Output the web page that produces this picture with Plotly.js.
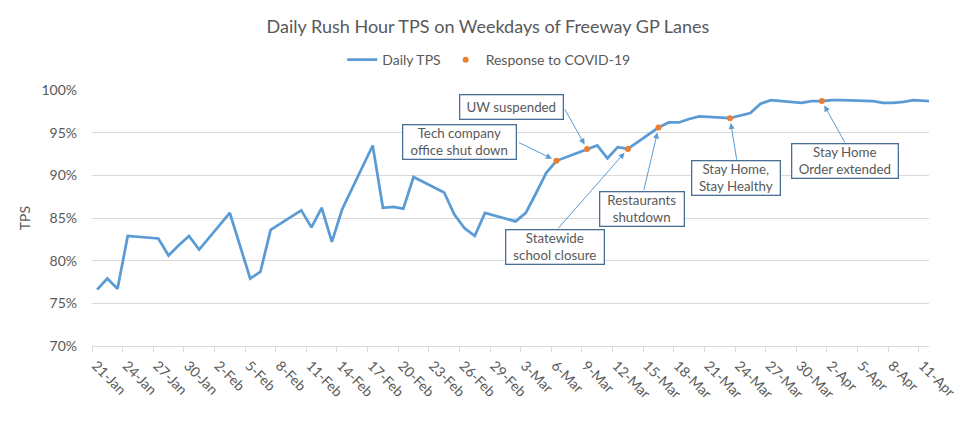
<!DOCTYPE html>
<html>
<head>
<meta charset="utf-8">
<script src="https://cdn.plot.ly/plotly-3.0.1.min.js"></script>
<style>html,body{margin:0;padding:0;background:#fff;}#chart{width:975px;height:423px;}</style>
</head>
<body>
<div id="chart"></div>
<script>
// Weekday dates (2020) and Daily TPS (%)
const dates = [
  '2020-01-21','2020-01-22','2020-01-23','2020-01-24','2020-01-27','2020-01-28','2020-01-29','2020-01-30','2020-01-31',
  '2020-02-03','2020-02-05','2020-02-06','2020-02-07','2020-02-10','2020-02-11','2020-02-12','2020-02-13','2020-02-14',
  '2020-02-17','2020-02-18','2020-02-19','2020-02-20','2020-02-21','2020-02-24','2020-02-25','2020-02-26','2020-02-27','2020-02-28',
  '2020-03-02','2020-03-03','2020-03-04','2020-03-05','2020-03-06','2020-03-09','2020-03-10','2020-03-11','2020-03-12','2020-03-13',
  '2020-03-16','2020-03-17','2020-03-18','2020-03-19','2020-03-20','2020-03-23','2020-03-24','2020-03-25','2020-03-26','2020-03-27',
  '2020-03-30','2020-03-31','2020-04-01','2020-04-02','2020-04-03','2020-04-06','2020-04-07','2020-04-08','2020-04-09','2020-04-10','2020-04-13'
];
const tps = [
  76.6,77.9,76.7,82.9,82.6,80.6,81.8,82.9,81.3,
  85.6,77.9,78.7,83.6,85.9,83.9,86.2,82.2,86.0,
  93.5,86.2,86.3,86.1,89.8,88.0,85.4,83.8,82.9,85.6,
  84.6,85.6,87.9,90.3,91.7,93.1,93.5,92.0,93.3,93.1,
  95.6,96.2,96.2,96.6,96.9,96.7,97.0,97.3,98.4,98.8,
  98.5,98.7,98.7,98.8,98.8,98.7,98.5,98.5,98.6,98.8,98.6
];
// COVID-19 response events
const eventDates = ['2020-03-06','2020-03-09','2020-03-13','2020-03-16','2020-03-23','2020-04-01'];
const eventTps   = [91.7, 93.1, 93.1, 95.6, 96.7, 98.7];
const eventLabels = ['Tech company<br>office shut down','UW suspended','Statewide<br>school closure','Restaurants<br>shutdown','Stay Home,<br>Stay Healthy','Stay Home<br>Order extended'];
// x tick labels
const tickDates = ['2020-01-21','2020-01-24','2020-01-27','2020-01-30','2020-02-02','2020-02-05','2020-02-08','2020-02-11','2020-02-14','2020-02-17',
  '2020-02-20','2020-02-23','2020-02-26','2020-02-29','2020-03-03','2020-03-06','2020-03-09','2020-03-12','2020-03-15','2020-03-18',
  '2020-03-21','2020-03-24','2020-03-27','2020-03-30','2020-04-02','2020-04-05','2020-04-08','2020-04-11'];
const tickLabels = ['21-Jan','24-Jan','27-Jan','30-Jan','2-Feb','5-Feb','8-Feb','11-Feb','14-Feb','17-Feb',
  '20-Feb','23-Feb','26-Feb','29-Feb','3-Mar','6-Mar','9-Mar','12-Mar','15-Mar','18-Mar',
  '21-Mar','24-Mar','27-Mar','30-Mar','2-Apr','5-Apr','8-Apr','11-Apr'];
const yTicks = [70,75,80,85,90,95,100];

const noon = d => d + ' 12:00';
const FONT = 'Lato, Carlito, Calibri, "Liberation Sans", sans-serif';
const GREY = '#595959';

const traces = [
  {x: dates.map(noon), y: tps, type: 'scatter', mode: 'lines', name: 'Daily TPS',
   line: {color: '#5B9BD5', width: 2.75}},
  {x: eventDates.map(noon), y: eventTps, type: 'scatter', mode: 'markers', name: 'Response to COVID-19',
   marker: {color: '#ED7D31', size: 6}}
];

// box positions (paper) and arrow tails (pixel offsets from event point)
const boxPos = [[0.4393,0.7988,110,31],[0.5006,0.9355,100,21],[0.5535,0.386,95,31],[0.6569,0.5352,81,31],[0.7694,0.6555,85,31],[0.9002,0.7227,103,31]];
const arrowTail = [[-39,-19],[-23,-41],[-71,81],[-15,64],[7,43],[24,43]];

const annotations = [];
eventLabels.forEach((t,i) => {
  annotations.push({xref:'paper', yref:'paper', x: boxPos[i][0], y: boxPos[i][1], xanchor:'center', yanchor:'middle',
    text: t, showarrow:false, font:{family:FONT, size:13.3, color:GREY}, bgcolor:'#ffffff',
    bordercolor:'#4A6F96', borderwidth:1.3, borderpad:1, width: boxPos[i][2], height: boxPos[i][3], align:'center'});
  annotations.push({x: noon(eventDates[i]), y: eventTps[i], xref:'x', yref:'y', text:'', showarrow:true,
    ax: arrowTail[i][0], ay: arrowTail[i][1], axref:'pixel', ayref:'pixel',
    arrowhead:2, arrowsize:1.2, arrowwidth:1, arrowcolor:'#5B9BD5', standoff:5});
});

const layout = {
  width: 975, height: 423,
  margin: {l: 92, r: 46, t: 90, b: 77},
  paper_bgcolor: '#ffffff', plot_bgcolor: '#ffffff',
  font: {family: FONT, color: GREY, size: 14},
  title: {text: 'Daily Rush Hour TPS on Weekdays of Freeway GP Lanes', x: 0.5005, xanchor: 'center',
          y: 0.936, yanchor: 'middle', font: {family: FONT, size: 18, color: GREY}},
  showlegend: true,
  legend: {orientation: 'h', x: 0.474, xanchor: 'center', y: 1.117, yanchor: 'middle',
           font: {family: FONT, size: 14, color: GREY}, itemwidth: 30, bgcolor: 'rgba(0,0,0,0)'},
  xaxis: {type: 'date', range: ['2020-01-21', '2020-04-12'], tickmode: 'array',
          tickvals: tickDates, ticktext: tickLabels, tickangle: 45, ticklabelshift: 4,
          ticks: 'outside', ticklen: 5, tickcolor: '#D9D9D9', tickwidth: 1,
          showgrid: false, showline: true, linecolor: '#D9D9D9', linewidth: 1,
          tickfont: {family: FONT, size: 14, color: GREY}, zeroline: false, fixedrange: true},
  yaxis: {range: [70, 100], tickmode: 'array', tickvals: yTicks, ticktext: yTicks.map(v => v + '%'),
          showgrid: true, gridcolor: '#D9D9D9', gridwidth: 1, showline: false, zeroline: false,
          ticks: '', ticklabelstandoff: 14, tickfont: {family: FONT, size: 14, color: GREY},
          title: {text: 'TPS', font: {family: FONT, size: 14, color: GREY}, standoff: 7}, fixedrange: true},
  annotations: annotations
};

Plotly.newPlot('chart', traces, layout, {displayModeBar: false, staticPlot: true});
</script>
</body>
</html>
